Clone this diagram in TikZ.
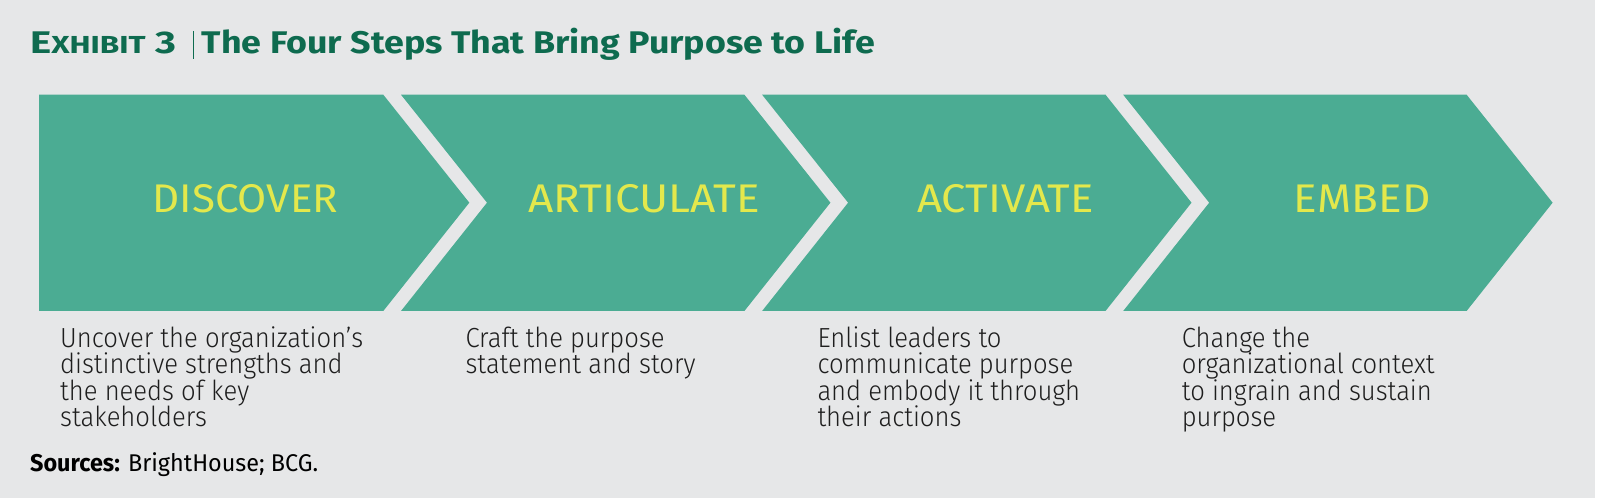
\documentclass[tikz,border=0pt]{standalone}
\usepackage{fontspec}
\usepackage{graphicx}
\setmainfont{Fira Sans}
\newfontfamily\lightfont{Fira Sans Light}
\definecolor{bggray}{HTML}{E6E7E8}
\definecolor{chevgreen}{HTML}{4BAC93}
\definecolor{titlegreen}{HTML}{0E6B4F}
\definecolor{labelyellow}{HTML}{E3E84C}
\definecolor{desctext}{HTML}{1E1E1E}
\newsavebox\fitbox
\newcommand\fitto[2]{\sbox\fitbox{#2}\scalebox{\fpeval{#1/\the\wd\fitbox}}[1]{\usebox\fitbox}}
\newcommand\dl[1]{\hbox{#1}}
\newcommand\desclines[1]{\vtop{\lightfont\fontsize{27.6}{26}\selectfont\baselineskip=26pt\lineskiplimit=-60pt\lineskip=0pt #1}}
\tikzset{
  chev/.style={fill=chevgreen, draw=none},
  steplabel/.style={anchor=base, inner sep=0pt, text=labelyellow},
  desctxt/.style={anchor=base west, inner sep=0pt, text=desctext},
  titletxt/.style={anchor=base west, inner sep=0pt, text=titlegreen},
}
\begin{document}
\sbox\fitbox{\lightfont\fontsize{27.6}{26}\selectfont Uncover the organization’s}%
\edef\dscale{\fpeval{303/\the\wd\fitbox}}%
\begin{tikzpicture}[x=1pt, y=-1pt]
% background
\fill[white] (0,0) rectangle (1600,502);
\fill[bggray] (0,0) rectangle (1595,497.5);
\useasboundingbox (0,0) rectangle (1600,502);
% title
\node[titletxt] (exh) at (30,53.3) {\fitto{146}{\bfseries\fontsize{31.3}{31}\selectfont E\fontsize{24.6}{24}\selectfont XHIBIT\fontsize{31.3}{31}\selectfont\ 3}};
\coordinate (bartop) at (193.3,31);
\coordinate (barbot) at (193.3,59.3);
\draw[titlegreen, line width=1.6pt] (bartop) -- (barbot);
\node[titletxt] (title) at (201.7,53.3) {\fitto{673}{\bfseries\fontsize{31.3}{31}\selectfont The Four Steps That Bring Purpose to Life}};
% chevrons
\fill[chev] (39,94.7) -- (383.3,94.7) -- (469.3,202.7) -- (383.3,311) -- (39,311) -- cycle;
\foreach \k in {1,2,3}{
  \pgfmathsetmacro\N{401+(\k-1)*361.1}
  \pgfmathsetmacro\R{383.3+\k*361.1}
  \fill[chev] (\N,94.7) -- (\R,94.7) -- (\R+86,202.7) -- (\R,311) -- (\N,311) -- (\N+86,202.7) -- cycle;
}
% step labels
\node[steplabel] (s1) at (245.5,212.7) {\fitto{185.6}{\fontsize{40}{40}\selectfont DISCOVER}};
\node[steplabel] (s2) at (644.4,212.7) {\fitto{231.6}{\fontsize{40}{40}\selectfont ARTICULATE}};
\node[steplabel] (s3) at (1005.6,212.7) {\fitto{176.6}{\fontsize{40}{40}\selectfont ACTIVATE}};
\node[steplabel] (s4) at (1362.2,212.7) {\fitto{136.7}{\fontsize{40}{40}\selectfont EMBED}};
% descriptions
\node[desctxt] (d1) at (60,348) {\scalebox{\dscale}[1]{\desclines{\dl{Uncover the organization’s}\dl{distinctive strengths and}\dl{the needs of key}\dl{stakeholders}}}};
\node[desctxt] (d2) at (465.3,348) {\scalebox{\dscale}[1]{\desclines{\dl{Craft the purpose}\dl{statement and story}}}};
\node[desctxt] (d3) at (817.3,348) {\scalebox{\dscale}[1]{\desclines{\dl{Enlist leaders to}\dl{communicate purpose}\dl{and embody it through}\dl{their actions}}}};
\node[desctxt] (d4) at (1181.6,348) {\scalebox{\dscale}[1]{\desclines{\dl{Change the}\dl{organizational context}\dl{to ingrain and sustain}\dl{purpose}}}};
% sources
\node[desctxt, text=black] (src) at (30,471.7) {\fitto{288}{\fontsize{24.2}{24}\selectfont\textbf{Sources:} BrightHouse; BCG.}};
\end{tikzpicture}
\end{document}
